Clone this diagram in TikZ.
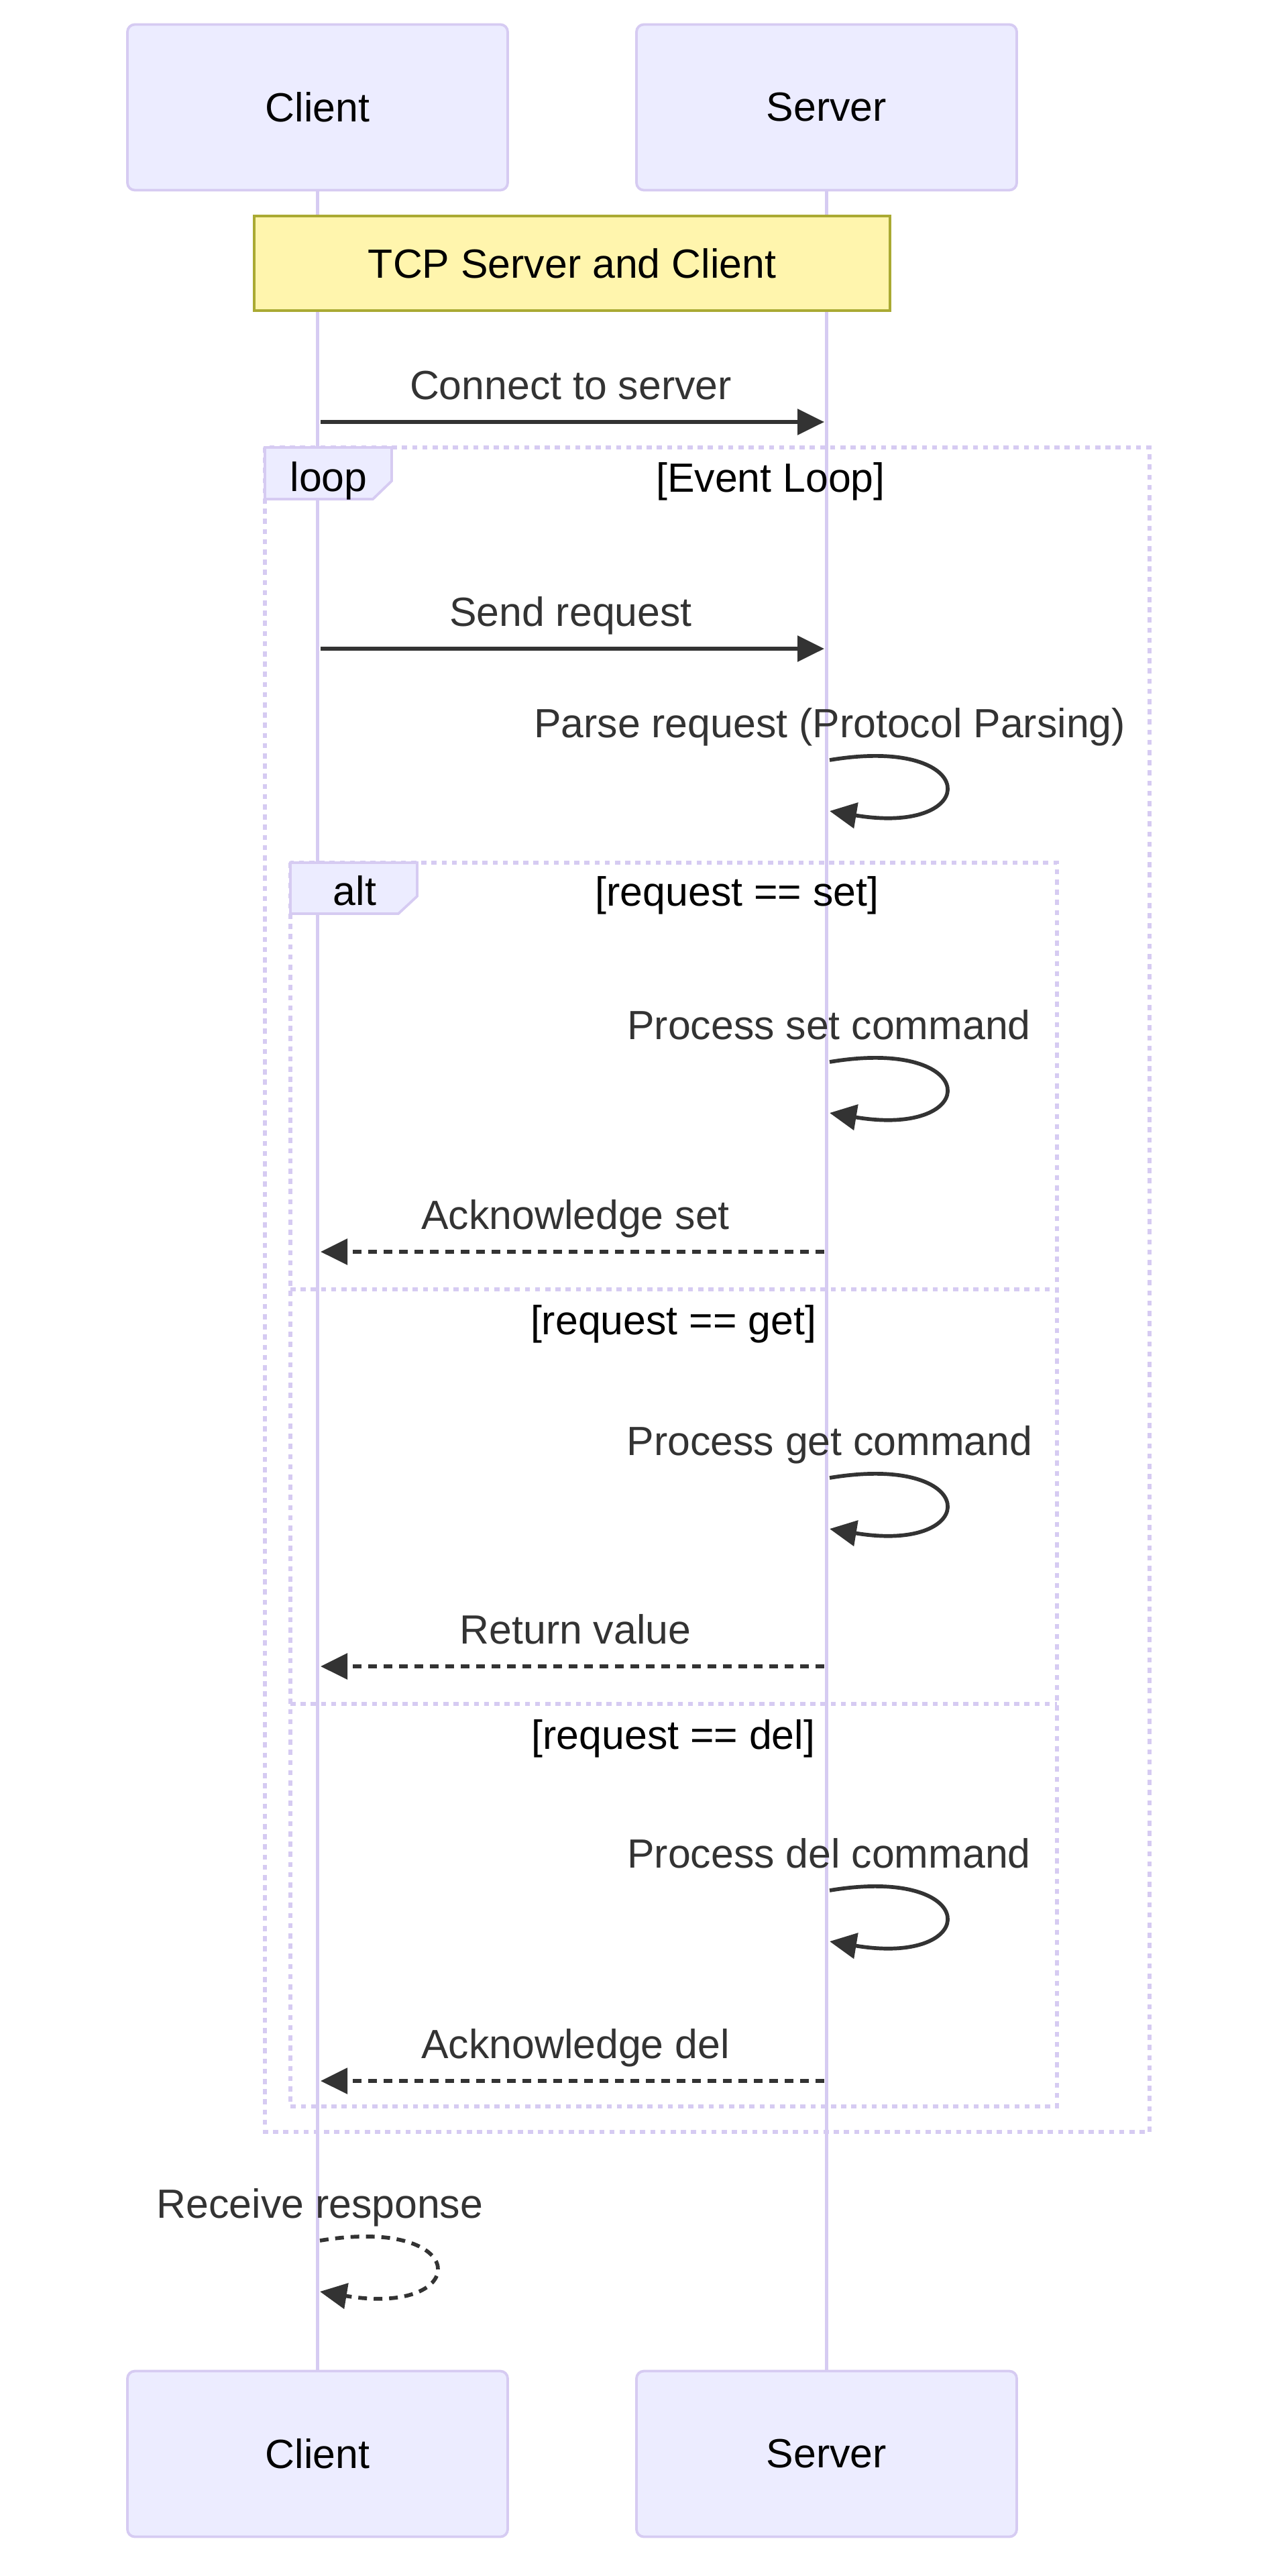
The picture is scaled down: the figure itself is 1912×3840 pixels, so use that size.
\documentclass[tikz,border=0pt]{standalone}
\usepackage{fontspec}
\setmainfont{Liberation Sans}
\usetikzlibrary{arrows.meta}

\definecolor{actorfill}{HTML}{ECECFF}
\definecolor{actorline}{HTML}{D6CBF2}
\definecolor{notefill}{HTML}{FFF5AD}
\definecolor{noteline}{HTML}{AAAA33}
\definecolor{msgcol}{HTML}{333333}

\tikzset{
    actor/.style={draw=actorline, fill=actorfill, line width=3.8pt,
        rounded corners=11pt, minimum width=567pt, minimum height=247pt,
        inner sep=0pt, text=black},
    lifeline/.style={draw=actorline, line width=5.5pt},
    framebox/.style={draw=actorline, line width=6.5pt,
        dash pattern=on 7.6pt off 7.6pt},
    tabbox/.style={draw=actorline, fill=actorfill, line width=3.8pt},
    msg/.style={draw=msgcol, line width=5.7pt,
        -{Triangle[length=40pt,width=38pt]}},
    reply/.style={msg, dash pattern=on 13pt off 10pt},
    msgtext/.style={text=msgcol, anchor=base, inner sep=0pt},
    frametext/.style={text=black, anchor=base, inner sep=0pt},
}

\begin{document}
\begin{tikzpicture}[x=1pt, y=-1pt,
        every node/.style={font=\fontsize{60.8}{73}\selectfont}]
    \useasboundingbox (0,0) rectangle (1912,3840);

    % actors
    \node[actor] (cTop) at (473.5,160) {Client};
    \node[actor] (sTop) at (1232.5,160) {Server};
    \node[actor] (cBot) at (473.5,3658) {Client};
    \node[actor] (sBot) at (1232.5,3658) {Server};

    \draw[lifeline] (cTop.south) -- (cBot.north);
    \draw[lifeline] (sTop.south) -- (sBot.north);

    % note over both
    \node[draw=noteline, fill=notefill, line width=3.8pt,
        minimum width=948pt, minimum height=141pt, inner sep=0pt, text=black]
        (note) at (853,392.5) {TCP Server and Client};

    % frames
    \draw[framebox] (395,667) rectangle (1714,3178);
    \draw[framebox] (433,1286) rectangle (1576,3140);
    \draw[framebox] (433,1922) -- (1576,1922);
    \draw[framebox] (433,2540) -- (1576,2540);
    \draw[tabbox] (395,667) -- (584,667) -- (584,717) -- (556,744)
        -- (395,744) -- cycle;
    \draw[tabbox] (433,1286) -- (622,1286) -- (622,1336) -- (594,1362)
        -- (433,1362) -- cycle;
    \node[frametext] (loopLbl) at (490,732) {loop};
    \node[frametext] (loopCond) at (1149,733) {[Event Loop]};
    \node[frametext] (altLbl) at (529,1349) {alt};
    \node[frametext] (altSet) at (1099,1350) {[request == set]};
    \node[frametext] (altGet) at (1004,1989) {[request == get]};
    \node[frametext] (altDel) at (1004,2607) {[request == del]};

    % message end points
    \coordinate (connC) at (478,629);   \coordinate (connS) at (1229,629);
    \coordinate (sendC) at (478,967);   \coordinate (sendS) at (1229,967);
    \coordinate (ackSetS) at (1229,1866); \coordinate (ackSetC) at (478,1866);
    \coordinate (retS) at (1229,2484);  \coordinate (retC) at (478,2484);
    \coordinate (ackDelS) at (1229,3102); \coordinate (ackDelC) at (478,3102);

    \draw[msg] (connC) -- (connS);
    \node[msgtext] (connLbl) at (851,595) {Connect to server};
    \draw[msg] (sendC) -- (sendS);
    \node[msgtext] (sendLbl) at (851,933) {Send request};
    \draw[reply] (ackSetS) -- (ackSetC);
    \node[msgtext] (ackSetLbl) at (858,1832) {Acknowledge set};
    \draw[reply] (retS) -- (retC);
    \node[msgtext] (retLbl) at (858,2450) {Return value};
    \draw[reply] (ackDelS) -- (ackDelC);
    \node[msgtext] (ackDelLbl) at (858,3068) {Acknowledge del};

    % self messages
    \coordinate (parseA) at (1237,1133); \coordinate (parseB) at (1237,1209);
    \coordinate (setA) at (1237,1583);   \coordinate (setB) at (1237,1659);
    \coordinate (getA) at (1237,2203);   \coordinate (getB) at (1237,2279);
    \coordinate (delA) at (1237,2818);   \coordinate (delB) at (1237,2894);
    \coordinate (recvA) at (477,3340);   \coordinate (recvB) at (477,3416);

    \draw[msg] (parseA) .. controls +(228,-38) and +(228,38) .. (parseB);
    \node[msgtext] (parseLbl) at (1237,1099) {Parse request (Protocol Parsing)};
    \draw[msg] (setA) .. controls +(228,-38) and +(228,38) .. (setB);
    \node[msgtext] (setLbl) at (1236,1549) {Process set command};
    \draw[msg] (getA) .. controls +(228,-38) and +(228,38) .. (getB);
    \node[msgtext] (getLbl) at (1237,2169) {Process get command};
    \draw[msg] (delA) .. controls +(228,-38) and +(228,38) .. (delB);
    \node[msgtext] (delLbl) at (1236,2784) {Process del command};
    \draw[reply] (recvA) .. controls +(228,-38) and +(228,38) .. (recvB);
    \node[msgtext] (recvLbl) at (477,3306) {Receive response};
\end{tikzpicture}
\end{document}
